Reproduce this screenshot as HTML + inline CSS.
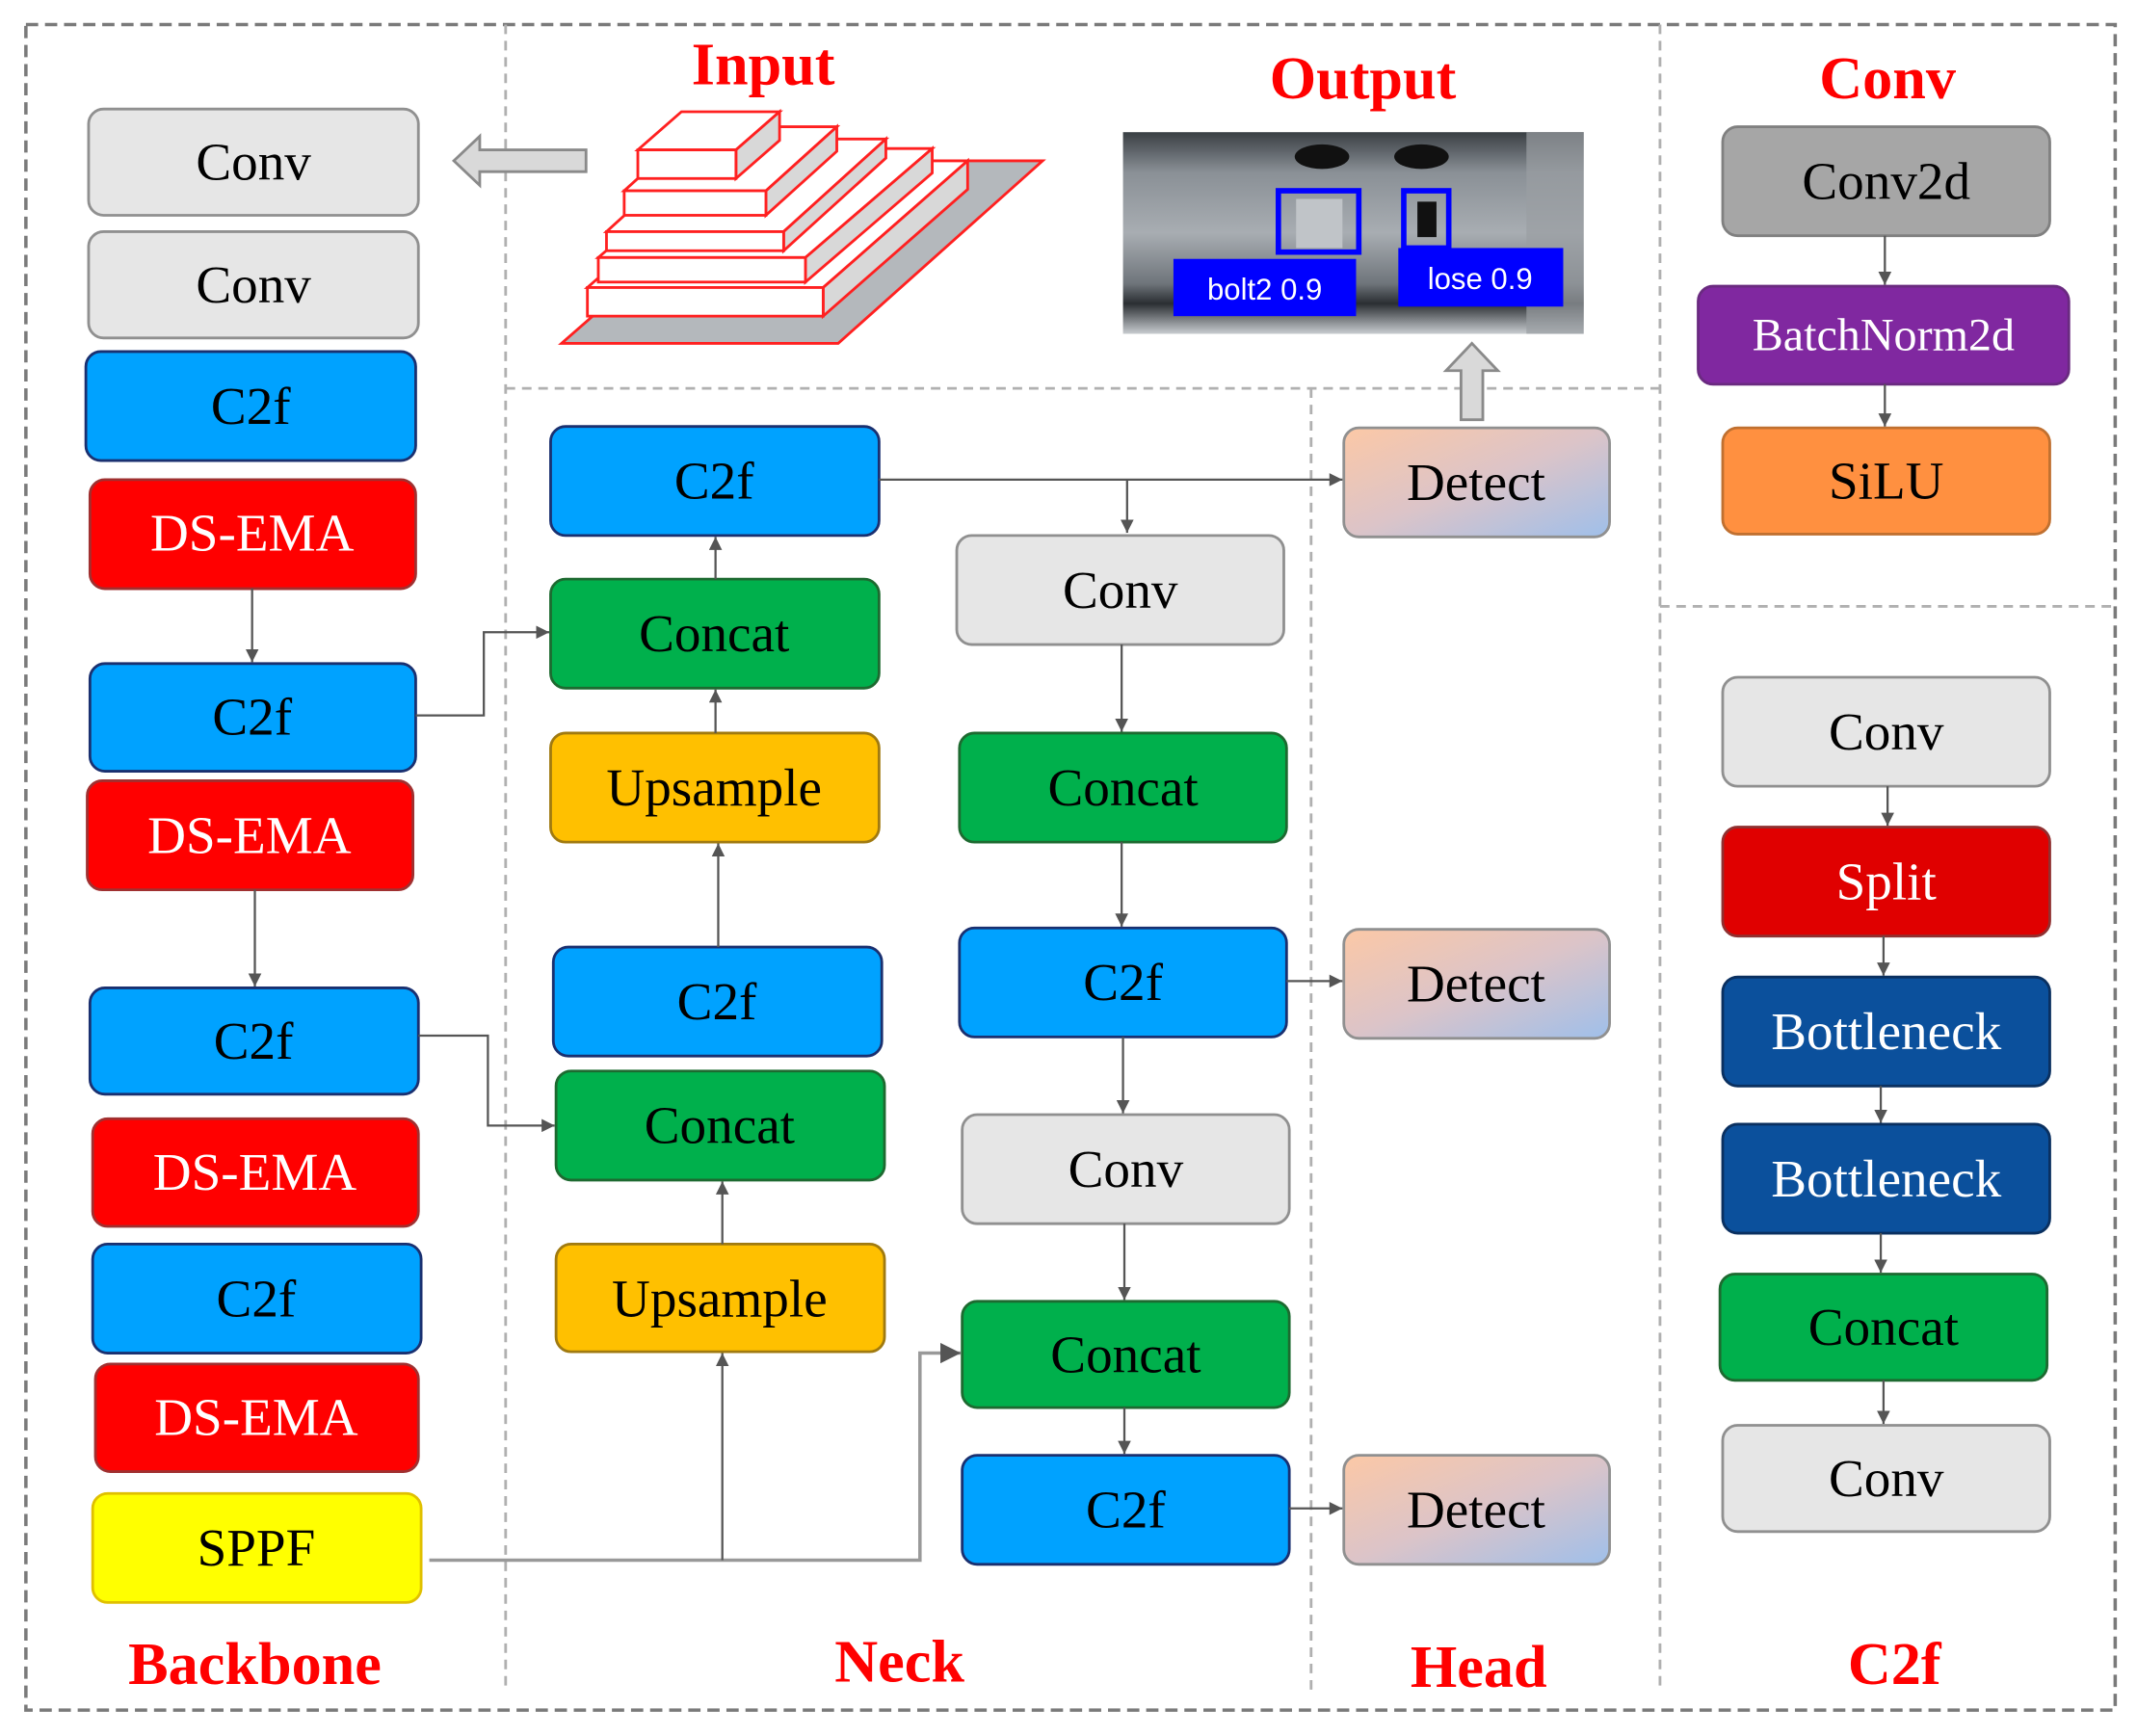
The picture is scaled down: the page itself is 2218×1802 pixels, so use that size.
<!DOCTYPE html>
<html><head><meta charset="utf-8"><style>html,body{margin:0;padding:0;background:#fff}svg{display:block}</style></head>
<body>
<svg width="2218" height="1802" viewBox="0 0 1568 1274" preserveAspectRatio="none" xmlns="http://www.w3.org/2000/svg" font-family="'Liberation Serif', serif">
<defs>
<marker id="a" viewBox="0 0 10 10" refX="10" refY="5" markerWidth="6" markerHeight="6" orient="auto"><path d="M0,0L10,5L0,10z" fill="#555"/></marker>
<linearGradient id="g" x1="0" y1="0" x2="1" y2="1"><stop offset="0" stop-color="#fcc8a6"/><stop offset="0.5" stop-color="#dcc4c8"/><stop offset="1" stop-color="#9fbfea"/></linearGradient>
<linearGradient id="metal" x1="0" y1="0" x2="0" y2="1"><stop offset="0" stop-color="#3a3f44"/><stop offset="0.2" stop-color="#8a9096"/><stop offset="0.5" stop-color="#a8adb2"/><stop offset="0.75" stop-color="#6f757b"/><stop offset="0.85" stop-color="#2a2e32"/><stop offset="1" stop-color="#c8ccd0"/></linearGradient>
</defs>
<rect x="19" y="18" width="1533" height="1237" fill="none" stroke="#7a7a7a" stroke-width="2.5" stroke-dasharray="9,5"/>
<g stroke="#b0b0b0" stroke-width="2" stroke-dasharray="7,5" fill="none">
<line x1="371" y1="18" x2="371" y2="1240"/>
<line x1="371" y1="285" x2="1218" y2="285"/>
<line x1="962" y1="285" x2="962" y2="1240"/>
<line x1="1218" y1="18" x2="1218" y2="1240"/>
<line x1="1218" y1="445" x2="1552" y2="445"/>
</g>
<g fill="#ff0000" font-weight="bold" font-size="44" text-anchor="middle">
<text x="560" y="62">Input</text>
<text x="1000" y="72">Output</text>
<text x="1385" y="72">Conv</text>
<text x="187" y="1236">Backbone</text>
<text x="660" y="1234">Neck</text>
<text x="1085" y="1238">Head</text>
<text x="1390" y="1236">C2f</text>
</g>
<polygon points="412,252 615,252 765,118 565,118" fill="#b4b8bc" stroke="#ff2020" stroke-width="2"/>
<g stroke="#ff2020" stroke-width="2">
<polygon points="431,211 604,211 710,118 537,118" fill="#fff"/><polygon points="604,211 710,118 710,139 604,232" fill="#d8d8d8"/><rect x="431" y="211" width="173" height="21" fill="#fff"/>
<polygon points="439,189 591,189 684,109 532,109" fill="#fff"/><polygon points="591,189 684,109 684,127 591,207" fill="#d8d8d8"/><rect x="439" y="189" width="152" height="18" fill="#fff"/>
<polygon points="445,170 575,170 650,102 520,102" fill="#fff"/><polygon points="575,170 650,102 650,116 575,184" fill="#d8d8d8"/><rect x="445" y="170" width="130" height="14" fill="#fff"/>
<polygon points="458,140 562,140 614,93 510,93" fill="#fff"/><polygon points="562,140 614,93 614,111 562,158" fill="#d8d8d8"/><rect x="458" y="140" width="104" height="18" fill="#fff"/>
<polygon points="468,110 540,110 572,82 500,82" fill="#fff"/><polygon points="540,110 572,82 572,103 540,131" fill="#d8d8d8"/><rect x="468" y="110" width="72" height="21" fill="#fff"/>
</g>
<polygon points="333,118 352,100 352,110 430,110 430,126 352,126 352,136" fill="#d9d9d9" stroke="#8a8a8a" stroke-width="2"/>
<rect x="824" y="97" width="338" height="148" fill="url(#metal)"/>
<rect x="1120" y="97" width="42" height="148" fill="#9a9ea2" opacity="0.7"/>
<ellipse cx="970" cy="115" rx="20" ry="9" fill="#111"/><ellipse cx="1043" cy="115" rx="20" ry="9" fill="#111"/>
<rect x="951" y="146" width="34" height="36" fill="#c0c4c8"/>
<rect x="938" y="140" width="59" height="45" fill="none" stroke="#0000ff" stroke-width="4"/>
<rect x="1030" y="140" width="33" height="42" fill="none" stroke="#0000ff" stroke-width="4"/>
<rect x="1040" y="148" width="14" height="26" fill="#111"/>
<rect x="861" y="190" width="134" height="42" fill="#0000ff"/>
<rect x="1026" y="182" width="121" height="43" fill="#0000ff"/>
<g fill="#fff" font-family="'Liberation Sans', sans-serif" font-size="22" text-anchor="middle"><text x="928" y="220">bolt2 0.9</text><text x="1086" y="212">lose 0.9</text></g>
<polygon points="1080,252 1099,272 1088,272 1088,308 1072,308 1072,272 1061,272" fill="#d9d9d9" stroke="#8a8a8a" stroke-width="2"/>
<g font-size="39" text-anchor="middle" stroke-width="2">
<rect x="65" y="80" width="242" height="78" rx="11" fill="#e6e6e6" stroke="#909090"/><text x="186" y="132">Conv</text>
<rect x="65" y="170" width="242" height="78" rx="11" fill="#e6e6e6" stroke="#909090"/><text x="186" y="222">Conv</text>
<rect x="63" y="258" width="242" height="80" rx="11" fill="#00a2ff" stroke="#1a3070"/><text x="184" y="311">C2f</text>
<rect x="66" y="352" width="239" height="80" rx="11" fill="#ff0000" stroke="#a03030"/><text x="185" y="404" fill="#fff">DS-EMA</text>
<rect x="66" y="487" width="239" height="79" rx="11" fill="#00a2ff" stroke="#1a3070"/><text x="185" y="539">C2f</text>
<rect x="64" y="573" width="239" height="80" rx="11" fill="#ff0000" stroke="#a03030"/><text x="183" y="626" fill="#fff">DS-EMA</text>
<rect x="66" y="725" width="241" height="78" rx="11" fill="#00a2ff" stroke="#1a3070"/><text x="186" y="777">C2f</text>
<rect x="68" y="821" width="239" height="79" rx="11" fill="#ff0000" stroke="#a03030"/><text x="187" y="873" fill="#fff">DS-EMA</text>
<rect x="68" y="913" width="241" height="80" rx="11" fill="#00a2ff" stroke="#1a3070"/><text x="188" y="966">C2f</text>
<rect x="70" y="1001" width="237" height="79" rx="11" fill="#ff0000" stroke="#a03030"/><text x="188" y="1053" fill="#fff">DS-EMA</text>
<rect x="68" y="1096" width="241" height="80" rx="11" fill="#ffff00" stroke="#e0c000"/><text x="188" y="1149">SPPF</text>
<rect x="404" y="313" width="241" height="80" rx="11" fill="#00a2ff" stroke="#1a3070"/><text x="524" y="366">C2f</text>
<rect x="404" y="425" width="241" height="80" rx="11" fill="#00b04c" stroke="#1d6a30"/><text x="524" y="478">Concat</text>
<rect x="404" y="538" width="241" height="80" rx="11" fill="#ffc000" stroke="#a07a10"/><text x="524" y="591">Upsample</text>
<rect x="406" y="695" width="241" height="80" rx="11" fill="#00a2ff" stroke="#1a3070"/><text x="526" y="748">C2f</text>
<rect x="408" y="786" width="241" height="80" rx="11" fill="#00b04c" stroke="#1d6a30"/><text x="528" y="839">Concat</text>
<rect x="408" y="913" width="241" height="79" rx="11" fill="#ffc000" stroke="#a07a10"/><text x="528" y="966">Upsample</text>
<rect x="702" y="393" width="240" height="80" rx="11" fill="#e6e6e6" stroke="#909090"/><text x="822" y="446">Conv</text>
<rect x="704" y="538" width="240" height="80" rx="11" fill="#00b04c" stroke="#1d6a30"/><text x="824" y="591">Concat</text>
<rect x="704" y="681" width="240" height="80" rx="11" fill="#00a2ff" stroke="#1a3070"/><text x="824" y="734">C2f</text>
<rect x="706" y="818" width="240" height="80" rx="11" fill="#e6e6e6" stroke="#909090"/><text x="826" y="871">Conv</text>
<rect x="706" y="955" width="240" height="78" rx="11" fill="#00b04c" stroke="#1d6a30"/><text x="826" y="1007">Concat</text>
<rect x="706" y="1068" width="240" height="80" rx="11" fill="#00a2ff" stroke="#1a3070"/><text x="826" y="1121">C2f</text>
<rect x="986" y="314" width="195" height="80" rx="11" fill="url(#g)" stroke="#909090"/><text x="1083" y="367">Detect</text>
<rect x="986" y="682" width="195" height="80" rx="11" fill="url(#g)" stroke="#909090"/><text x="1083" y="735">Detect</text>
<rect x="986" y="1068" width="195" height="80" rx="11" fill="url(#g)" stroke="#909090"/><text x="1083" y="1121">Detect</text>
<rect x="1264" y="93" width="240" height="80" rx="11" fill="#a6a6a6" stroke="#808080"/><text x="1384" y="146">Conv2d</text>
<rect x="1246" y="210" width="272" height="72" rx="11" fill="#8028a0" stroke="#6a2a80"/><text x="1382" y="257" fill="#fff" font-size="34">BatchNorm2d</text>
<rect x="1264" y="314" width="240" height="78" rx="11" fill="#ff9040" stroke="#c07030"/><text x="1384" y="366">SiLU</text>
<rect x="1264" y="497" width="240" height="80" rx="11" fill="#e6e6e6" stroke="#909090"/><text x="1384" y="550">Conv</text>
<rect x="1264" y="607" width="240" height="80" rx="11" fill="#e00000" stroke="#903030"/><text x="1384" y="660" fill="#fff">Split</text>
<rect x="1264" y="717" width="240" height="80" rx="11" fill="#0b509c" stroke="#0a3060"/><text x="1384" y="770" fill="#fff">Bottleneck</text>
<rect x="1264" y="825" width="240" height="80" rx="11" fill="#0b509c" stroke="#0a3060"/><text x="1384" y="878" fill="#fff">Bottleneck</text>
<rect x="1262" y="935" width="240" height="78" rx="11" fill="#00b04c" stroke="#1d6a30"/><text x="1382" y="987">Concat</text>
<rect x="1264" y="1046" width="240" height="78" rx="11" fill="#e6e6e6" stroke="#909090"/><text x="1384" y="1098">Conv</text>
</g>
<g stroke="#555" stroke-width="1.6" fill="none" marker-end="url(#a)">
<line x1="185" y1="432" x2="185" y2="486"/>
<line x1="187" y1="653" x2="187" y2="724"/>
<polyline points="305,525 355,525 355,464 403,464"/>
<polyline points="307,760 358,760 358,826 407,826"/>
<polyline points="315,1145 675,1145 675,993 705,993" stroke="#999" stroke-width="2.5"/>
<line x1="530" y1="1145" x2="530" y2="993"/>
<line x1="530" y1="913" x2="530" y2="867"/>
<line x1="527" y1="695" x2="527" y2="619"/>
<line x1="525" y1="538" x2="525" y2="506"/>
<line x1="525" y1="425" x2="525" y2="394"/>
<line x1="645" y1="352" x2="985" y2="352"/>
<line x1="827" y1="352" x2="827" y2="391"/>
<line x1="823" y1="473" x2="823" y2="537"/>
<line x1="823" y1="618" x2="823" y2="680"/>
<line x1="824" y1="761" x2="824" y2="817"/>
<line x1="825" y1="898" x2="825" y2="954"/>
<line x1="825" y1="1033" x2="825" y2="1067"/>
<line x1="944" y1="720" x2="985" y2="720"/>
<line x1="946" y1="1107" x2="985" y2="1107"/>
<line x1="1383" y1="173" x2="1383" y2="209"/>
<line x1="1383" y1="282" x2="1383" y2="313"/>
<line x1="1385" y1="577" x2="1385" y2="606"/>
<line x1="1382" y1="687" x2="1382" y2="716"/>
<line x1="1380" y1="797" x2="1380" y2="824"/>
<line x1="1380" y1="905" x2="1380" y2="934"/>
<line x1="1382" y1="1013" x2="1382" y2="1045"/>
</g>
</svg>
</body></html>
